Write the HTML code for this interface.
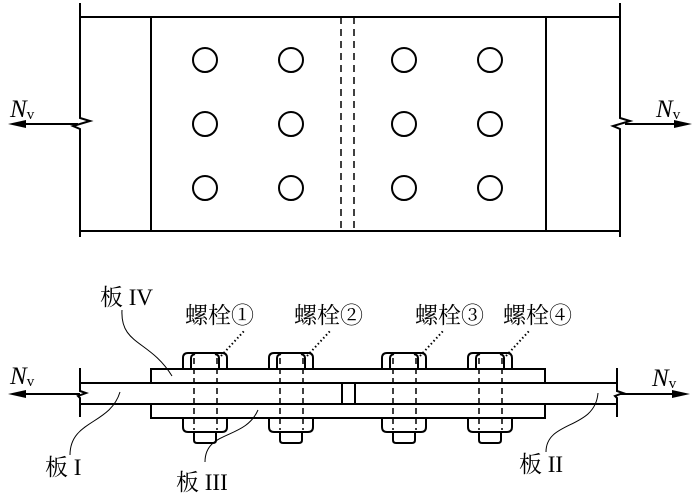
<!DOCTYPE html>
<html><head><meta charset="utf-8"><style>
html,body{margin:0;padding:0;background:#fff;}
svg{display:block;}
text{font-family:"Liberation Serif","Noto Serif CJK SC",serif;fill:#000;}
</style></head><body>
<svg width="700" height="504" viewBox="0 0 700 504" xmlns="http://www.w3.org/2000/svg">
<defs>
<g id="b" stroke="#000" stroke-width="2" fill="none">
<path d="M-22 369 V358 Q-22 353 -17 353 H17 Q22 353 22 358 V369"/>
<path d="M-14 369 V358 Q-14 355 -10 354"/>
<path d="M14 369 V358 Q14 355 10 354"/>
<path d="M-22 418 V427 Q-22 432 -17 432 H17 Q22 432 22 427 V418"/>
<path d="M-11 432 V440 Q-11 443 -8 443 H8 Q11 443 11 440 V432"/>
<g stroke-width="1.5" stroke-dasharray="6,4">
<line x1="-11" y1="358" x2="-11" y2="430"/>
<line x1="12" y1="358" x2="12" y2="430"/>
</g>
</g>
</defs>
<g stroke="#000" stroke-width="2" fill="none">
<line x1="80" y1="17" x2="620" y2="17"/>
<line x1="80" y1="231" x2="620" y2="231"/>
<path d="M80 3 V118 L90 121 L73 126 L80 129 V237"/>
<path d="M620 3 V118 L630 121 L613 126 L620 129 V237"/>
<line x1="151" y1="17" x2="151" y2="231"/>
<line x1="546" y1="17" x2="546" y2="231"/>
<g stroke-width="1.5" stroke-dasharray="7,5">
<line x1="341" y1="17" x2="341" y2="231"/>
<line x1="354" y1="17" x2="354" y2="231"/>
</g>
<g>
<circle cx="205" cy="60" r="12"/><circle cx="291" cy="60" r="12"/><circle cx="404" cy="60" r="12"/><circle cx="490" cy="60" r="12"/>
<circle cx="205" cy="124" r="12"/><circle cx="291" cy="124" r="12"/><circle cx="404" cy="124" r="12"/><circle cx="490" cy="124" r="12"/>
<circle cx="205" cy="188" r="12"/><circle cx="291" cy="188" r="12"/><circle cx="404" cy="188" r="12"/><circle cx="490" cy="188" r="12"/>
</g>
<line x1="20" y1="124" x2="78" y2="124"/>
<line x1="625" y1="124" x2="680" y2="124"/>
<path d="M80 368 V391 L86 393 L78 396 L80 398 V417"/>
<path d="M617 368 V391 L623 393 L615 396 L617 398 V417"/>
<line x1="80" y1="383" x2="617" y2="383"/>
<line x1="80" y1="404" x2="617" y2="404"/>
<rect x="151" y="369" width="394" height="14"/>
<rect x="151" y="404" width="394" height="14"/>
<line x1="342" y1="383" x2="342" y2="404"/>
<line x1="355" y1="383" x2="355" y2="404"/>
<line x1="20" y1="394" x2="80" y2="394"/>
<line x1="620" y1="394" x2="680" y2="394"/>
</g>
<polygon points="8,124 26,120 26,128" fill="#000"/>
<polygon points="692,124 674,120 674,128" fill="#000"/>
<polygon points="8,394 26,390 26,398" fill="#000"/>
<polygon points="690,394 672,390 672,398" fill="#000"/>
<use href="#b" x="205"/>
<use href="#b" x="291"/>
<use href="#b" x="404"/>
<use href="#b" x="490"/>
<g stroke="#000" stroke-width="2" stroke-dasharray="1.5,2.5" fill="none">
<line x1="221" y1="356" x2="245" y2="330"/>
<line x1="307" y1="356" x2="331" y2="330"/>
<line x1="420" y1="356" x2="444" y2="330"/>
<line x1="506" y1="356" x2="530" y2="330"/>
</g>
<g stroke="#000" stroke-width="1" fill="none">
<path d="M122 310 C120 345 150 340 172 376"/>
<path d="M70 455 C70 420 110 425 120 392"/>
<path d="M205 462 C205 430 245 440 258 410"/>
<path d="M546 452 C546 420 595 430 598 393"/>
</g>
<g font-size="23">
<text x="10" y="117" font-style="italic" font-size="25">N<tspan font-size="15" font-style="normal" dy="2">v</tspan></text>
<text x="656" y="117" font-style="italic" font-size="25">N<tspan font-size="15" font-style="normal" dy="2">v</tspan></text>
<text x="10" y="384" font-style="italic" font-size="25">N<tspan font-size="15" font-style="normal" dy="2">v</tspan></text>
<text x="652" y="386" font-style="italic" font-size="25">N<tspan font-size="15" font-style="normal" dy="2">v</tspan></text>
<text x="100" y="305">板 IV</text>
<text x="185" y="323">螺栓①</text>
<text x="294" y="323">螺栓②</text>
<text x="415" y="323">螺栓③</text>
<text x="503" y="323">螺栓④</text>
<text x="45" y="475">板 I</text>
<text x="176" y="490">板 III</text>
<text x="519" y="472">板 II</text>
</g>
</svg>
</body></html>
